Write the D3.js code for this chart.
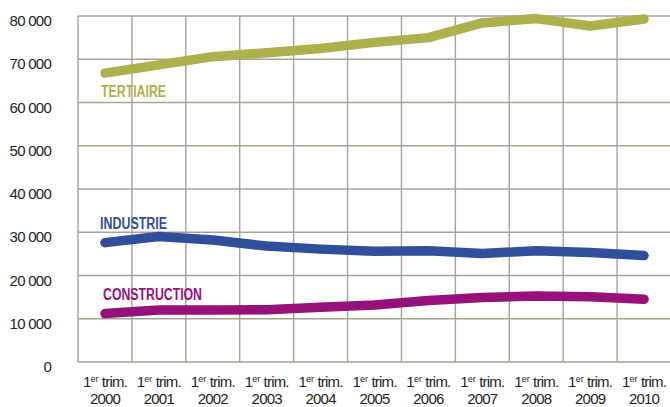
<!DOCTYPE html>
<html>
<head>
<meta charset="utf-8">
<script src="https://cdn.jsdelivr.net/npm/d3@7"></script>
<style>
  body { margin: 0; background: #fff; }
  svg { display: block; }
</style>
</head>
<body>
<div id="chart"></div>
<script>
var years = ["2000","2001","2002","2003","2004","2005","2006","2007","2008","2009","2010"];
var tertiaire    = [66800, 68700, 70600, 71500, 72500, 73900, 75000, 78400, 79400, 77700, 79300];
var industrie    = [27600, 29000, 28200, 26800, 26100, 25600, 25700, 25100, 25700, 25300, 24600];
var construction = [11200, 12000, 12000, 12100, 12650, 13200, 14200, 14900, 15250, 15100, 14500];
var yTicks = [0, 10000, 20000, 30000, 40000, 50000, 60000, 70000, 80000];

var svgWidth = 670, svgHeight = 407;
var plotLeft = 78, plotRight = 671, plotTop = 16, plotBottom = 362;
var gridColor = "#a3a396";

var svg = d3.select("#chart").append("svg")
  .attr("width", svgWidth)
  .attr("height", svgHeight);

var xscale = d3.scaleBand().domain(years).range([plotLeft, plotRight]);
var yscale = d3.scaleLinear().domain([0, 80000]).range([plotBottom, plotTop]);

// grid
svg.append("g").selectAll("line")
  .data(yTicks)
  .enter().append("line")
  .attr("x1", plotLeft).attr("x2", svgWidth)
  .attr("y1", d => yscale(d)).attr("y2", d => yscale(d))
  .attr("stroke", gridColor).attr("stroke-width", 1.4);
svg.append("g").selectAll("line")
  .data(years)
  .enter().append("line")
  .attr("x1", d => xscale(d)).attr("x2", d => xscale(d))
  .attr("y1", plotTop).attr("y2", plotBottom)
  .attr("stroke", gridColor).attr("stroke-width", 1.4);

// y labels
var fmt = d => d === 0 ? "0" : d3.format(",")(d).replace(",", " ");
svg.append("g").selectAll("text")
  .data(yTicks)
  .enter().append("text")
  .attr("x", 51)
  .attr("y", d => yscale(d) + 10)
  .attr("text-anchor", "end")
  .style("font-family", "Arial, 'Liberation Sans', sans-serif")
  .style("font-size", "15px")
  .style("letter-spacing", "-0.75px")
  .style("fill", "#231f20")
  .text(fmt);

// x labels
var xl = svg.append("g").selectAll("g")
  .data(years)
  .enter().append("g")
  .attr("transform", d => "translate(" + (xscale(d) + xscale.bandwidth() / 2) + ",0)")
  .style("font-family", "Arial, 'Liberation Sans', sans-serif")
  .style("font-size", "15px")
  .style("letter-spacing", "-0.8px")
  .style("fill", "#231f20");
var t1 = xl.append("text").attr("y", 386.5).attr("text-anchor", "middle");
t1.append("tspan").text("1");
t1.append("tspan").attr("dy", -5).style("font-size", "9px").style("letter-spacing", "0px").text("er");
t1.append("tspan").attr("dy", 5).text(" trim.");
xl.append("text").attr("y", 404).attr("text-anchor", "middle").text(d => d);

// lines
var line = d3.line()
  .x((d, i) => xscale(years[i]) + xscale.bandwidth() / 2)
  .y(d => yscale(d));

var series = [
  {name: "TERTIAIRE", values: tertiaire, color: "#abb14b", lx: 101, ly: 97, w: 65},
  {name: "INDUSTRIE", values: industrie, color: "#2f4f9a", lx: 100, ly: 229, w: 67},
  {name: "CONSTRUCTION", values: construction, color: "#97117b", lx: 103, ly: 300, w: 99}
];

series.forEach(function(s) {
  svg.append("path")
    .attr("d", line(s.values))
    .attr("fill", "none")
    .attr("stroke", s.color)
    .attr("stroke-width", 9.5)
    .attr("stroke-linecap", "round")
    .attr("stroke-linejoin", "round");
  svg.append("text")
    .attr("x", s.lx).attr("y", s.ly)
    .attr("textLength", s.w)
    .attr("lengthAdjust", "spacingAndGlyphs")
    .style("font-family", "Arial, 'Liberation Sans', sans-serif")
    .style("font-weight", "bold")
    .style("font-size", "16px")
    .style("fill", s.color)
    .text(s.name);
});
</script>
</body>
</html>
